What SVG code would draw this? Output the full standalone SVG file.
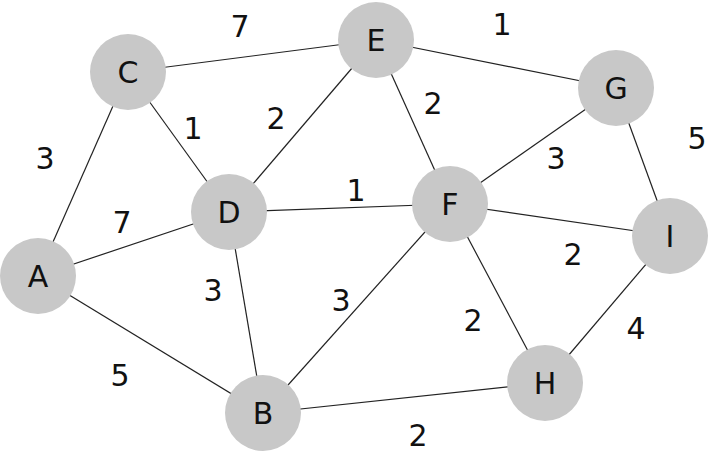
<svg xmlns="http://www.w3.org/2000/svg" width="712" height="452" viewBox="0 0 712 452">
<style>
.n{fill:#c8c8c8}
.t{font-family:"DejaVu Sans",Verdana,sans-serif;font-size:30px;fill:#111;text-anchor:middle;dominant-baseline:central}
.e{stroke:#222;stroke-width:1.2;fill:none}
</style>
<rect width="712" height="452" fill="#fff"/>
<g id="connectors">
<line class="e" x1="128" y1="72" x2="376" y2="40"/>
<line class="e" x1="376" y1="40" x2="616" y2="88"/>
<line class="e" x1="128" y1="72" x2="38" y2="276"/>
<line class="e" x1="128" y1="72" x2="229" y2="212"/>
<line class="e" x1="376" y1="40" x2="229" y2="212"/>
<line class="e" x1="376" y1="40" x2="450" y2="204"/>
<line class="e" x1="616" y1="88" x2="450" y2="204"/>
<line class="e" x1="616" y1="88" x2="670" y2="236"/>
<line class="e" x1="38" y1="276" x2="229" y2="212"/>
<line class="e" x1="229" y1="212" x2="450" y2="204"/>
<line class="e" x1="450" y1="204" x2="670" y2="236"/>
<line class="e" x1="229" y1="212" x2="263" y2="413"/>
<line class="e" x1="450" y1="204" x2="263" y2="413"/>
<line class="e" x1="450" y1="204" x2="545" y2="383"/>
<line class="e" x1="670" y1="236" x2="545" y2="383"/>
<line class="e" x1="38" y1="276" x2="263" y2="413"/>
<line class="e" x1="263" y1="413" x2="545" y2="383"/>
<g class="t">
<text class="t" x="240" y="26">7</text>
<text class="t" x="502" y="24">1</text>
<text class="t" x="45" y="158">3</text>
<text class="t" x="193" y="128">1</text>
<text class="t" x="276" y="118">2</text>
<text class="t" x="433" y="103">2</text>
<text class="t" x="556" y="158">3</text>
<text class="t" x="697" y="138">5</text>
<text class="t" x="122" y="222">7</text>
<text class="t" x="356" y="190">1</text>
<text class="t" x="573" y="254">2</text>
<text class="t" x="213" y="290">3</text>
<text class="t" x="341" y="300">3</text>
<text class="t" x="473" y="320">2</text>
<text class="t" x="636" y="328">4</text>
<text class="t" x="120" y="375">5</text>
<text class="t" x="418" y="435">2</text>
</g>
</g>
<g id="C"><circle class="n" cx="128" cy="72" r="38"/><text class="t" x="128" y="72">C</text></g>
<g id="E"><circle class="n" cx="376" cy="40" r="38"/><text class="t" x="376" y="40">E</text></g>
<g id="G"><circle class="n" cx="616" cy="88" r="38"/><text class="t" x="616" y="88">G</text></g>
<g id="D"><circle class="n" cx="229" cy="212" r="38"/><text class="t" x="229" y="212">D</text></g>
<g id="F"><circle class="n" cx="450" cy="204" r="38"/><text class="t" x="450" y="204">F</text></g>
<g id="I"><circle class="n" cx="670" cy="236" r="38"/><text class="t" x="670" y="236">I</text></g>
<g id="A"><circle class="n" cx="38" cy="276" r="38"/><text class="t" x="38" y="276">A</text></g>
<g id="B"><circle class="n" cx="263" cy="413" r="38"/><text class="t" x="263" y="413">B</text></g>
<g id="H"><circle class="n" cx="545" cy="383" r="38"/><text class="t" x="545" y="383">H</text></g>
</svg>
